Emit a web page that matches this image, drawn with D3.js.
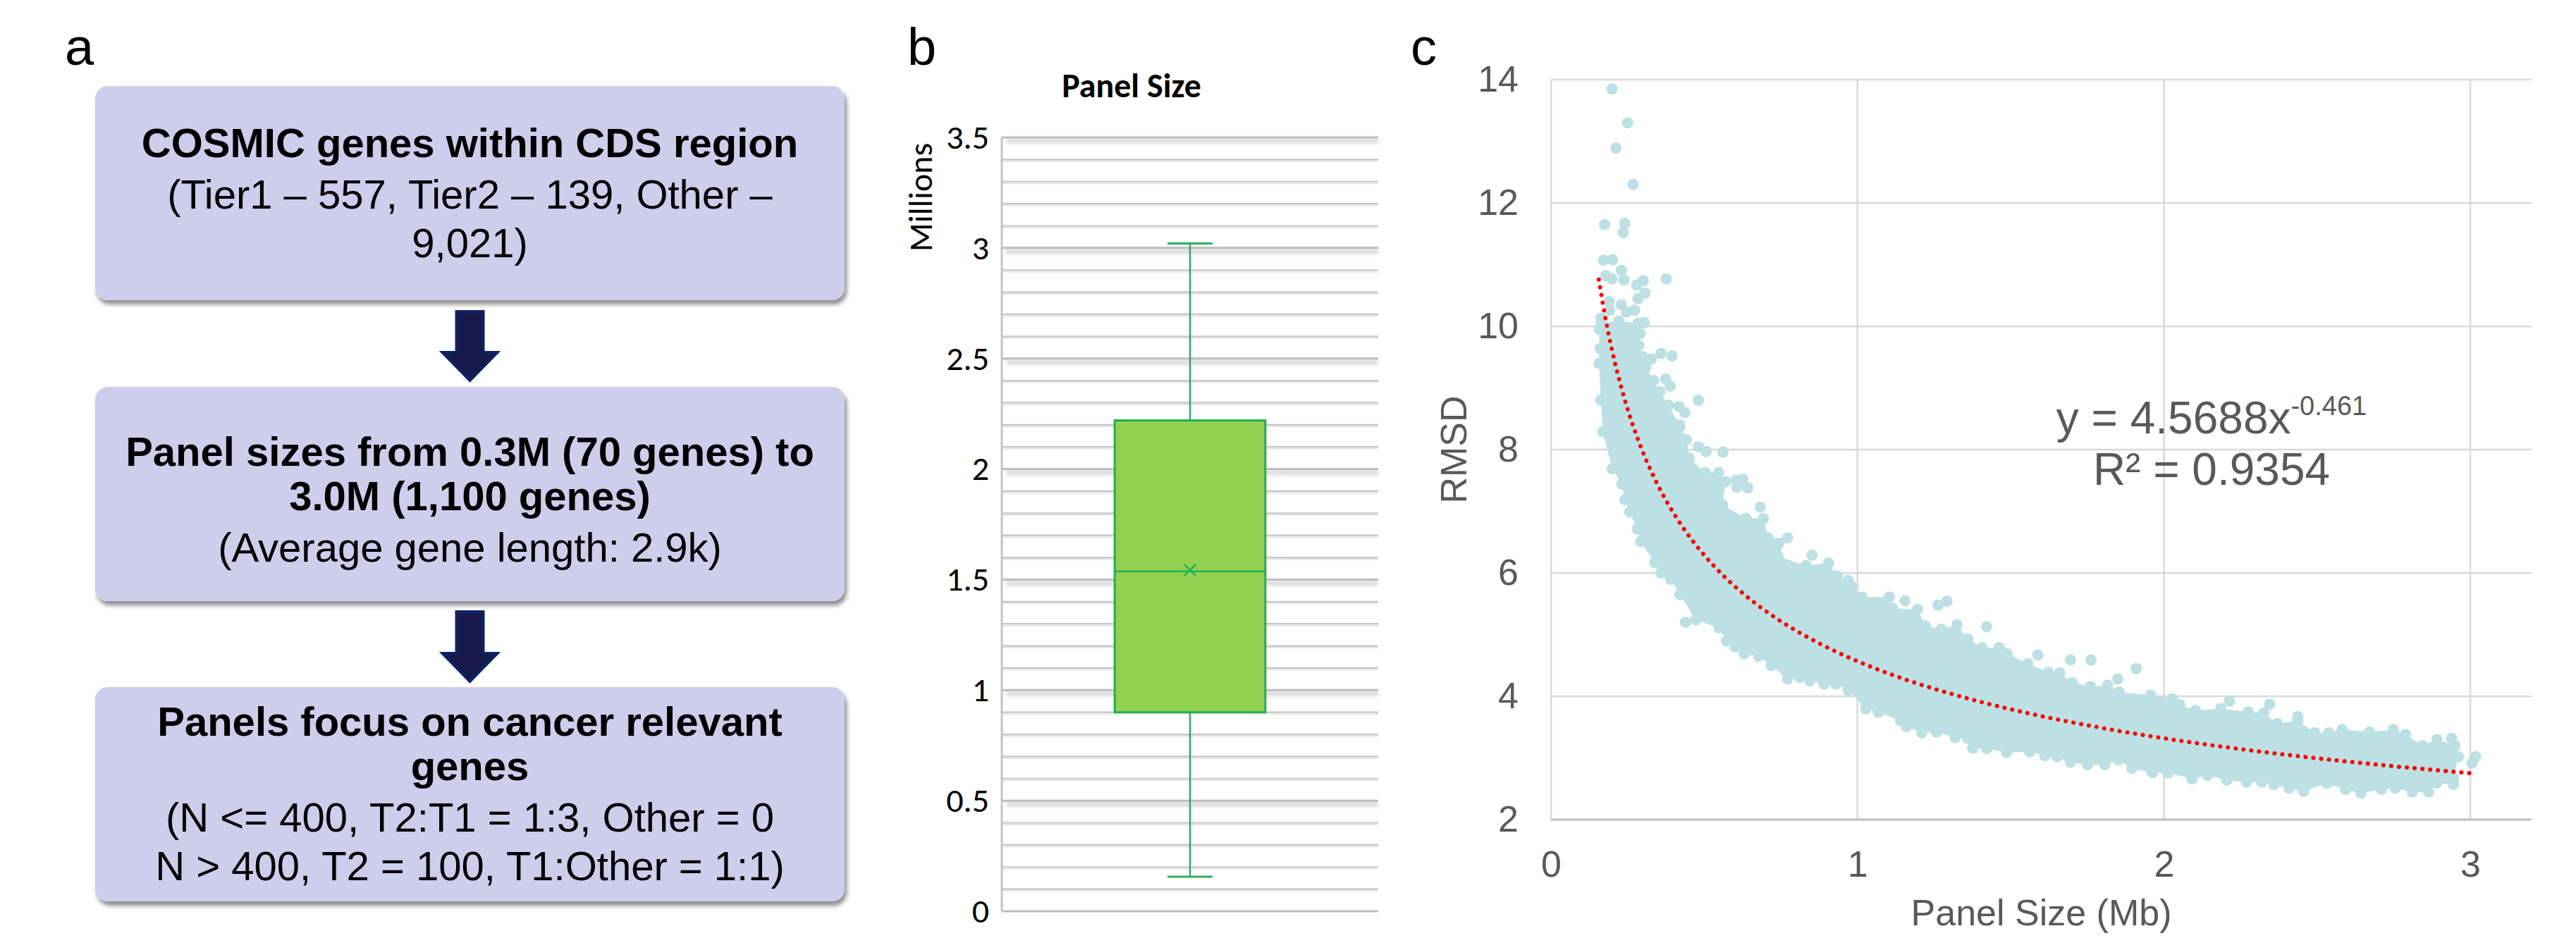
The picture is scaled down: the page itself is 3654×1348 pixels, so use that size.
<!DOCTYPE html>
<html>
<head>
	<meta charset="utf-8">
	<title>Panel size and RMSD</title>
	<style>
		body {
			margin: 0;
			background: #fff;
		}
		svg {
			display: block;
		}
		.flow-bold {
			font: bold 58px "Liberation Sans", Arial, sans-serif;
			fill: #000;
		}
		.flow-plain {
			font: 58px "Liberation Sans", Arial, sans-serif;
			fill: #000;
		}
		.panel-tag {
			font: 74px "Liberation Sans", Arial, sans-serif;
			fill: #000;
		}
		.xl text {
			font: 48px Carlito, Lato, sans-serif;
			fill: #000;
		}
		.xl text.title {
			font-weight: bold;
		}
		.sc text {
			font: 52px "Liberation Sans", Arial, sans-serif;
			fill: #595959;
		}
	</style>
</head>
<body>
	<svg id="fig" width="3654" height="1348"></svg>
	<script src="https://cdn.jsdelivr.net/npm/d3@7"></script>
	<script>
		// ---------- data ----------

		// panel a: the three steps of the flow chart
		var flowBold = [
			['COSMIC genes within CDS region'],
			['Panel sizes from 0.3M (70 genes) to', '3.0M (1,100 genes)'],
			['Panels focus on cancer relevant', 'genes']
		];
		var flowPlain = [
			['(Tier1 \u2013 557, Tier2 \u2013 139, Other \u2013', '9,021)'],
			['(Average gene length: 2.9k)'],
			['(N <= 400, T2:T1 = 1:3, Other = 0', 'N > 400, T2 = 100, T1:Other = 1:1)']
		];

		// panel b: box plot of panel size (millions of bases)
		var boxCategory = ['Panel Size'];
		var boxStats = [0.156, 0.90, 1.537, 2.22, 3.02];   // min, q1, median, q3, max
		var boxMean = 1.543;
		var boxTicks = [0, 0.5, 1, 1.5, 2, 2.5, 3, 3.5];

		// panel c: RMSD vs panel size (Mb)
		var scatterXTicks = [0, 1, 2, 3];
		var scatterYTicks = [2, 4, 6, 8, 10, 12, 14];
		// edge of the dense cloud, upper / right side
		var bandUpper = [
			[0.165, 10.05], [0.222, 10.09], [0.284, 10.05], [0.291, 9.88], [0.287, 9.69], [0.299, 9.51],
			[0.310, 9.34], [0.335, 9.12], [0.355, 8.94], [0.383, 8.72], [0.420, 8.40], [0.442, 8.16],
			[0.452, 7.86], [0.503, 7.63], [0.547, 7.63], [0.570, 7.48], [0.560, 7.10], [0.637, 6.89],
			[0.693, 6.88], [0.708, 6.57], [0.772, 6.57], [0.741, 6.27], [0.832, 6.12], [0.906, 6.16],
			[0.934, 5.95], [0.981, 5.78], [1.015, 5.61], [1.104, 5.61], [1.114, 5.43], [1.196, 5.41],
			[1.222, 5.14], [1.273, 5.09], [1.325, 5.16], [1.360, 4.93], [1.407, 4.79], [1.463, 4.79],
			[1.489, 4.69], [1.556, 4.53], [1.623, 4.39], [1.660, 4.38], [1.701, 4.22], [1.760, 4.16],
			[1.816, 4.18], [1.854, 4.07], [1.957, 4.02], [2.028, 3.96], [2.052, 3.86], [2.103, 3.77],
			[2.186, 3.80], [2.275, 3.75], [2.326, 3.73], [2.370, 3.56], [2.437, 3.60], [2.493, 3.41],
			[2.538, 3.41], [2.582, 3.46], [2.671, 3.42], [2.749, 3.46], [2.789, 3.38], [2.844, 3.20],
			[2.891, 3.30], [2.950, 3.20], [2.961, 3.02]
		];
		// edge of the dense cloud, lower / left side
		var bandLower = [
			[0.158, 9.95], [0.157, 9.40], [0.163, 8.80], [0.169, 8.29], [0.200, 7.69], [0.231, 7.44],
			[0.241, 7.19], [0.257, 6.99], [0.282, 6.71], [0.293, 6.51], [0.339, 6.17], [0.359, 6.00],
			[0.390, 5.90], [0.421, 5.65], [0.472, 5.24], [0.549, 5.11], [0.573, 4.90], [0.601, 4.80],
			[0.631, 4.69], [0.678, 4.65], [0.719, 4.50], [0.772, 4.28], [0.811, 4.31], [0.844, 4.25],
			[0.891, 4.20], [0.929, 4.20], [0.970, 4.10], [1.027, 3.80], [1.068, 3.74], [1.140, 3.61],
			[1.160, 3.51], [1.210, 3.41], [1.258, 3.42], [1.319, 3.33], [1.360, 3.32], [1.376, 3.16],
			[1.422, 3.15], [1.487, 3.09], [1.562, 3.10], [1.612, 3.04], [1.651, 3.02], [1.695, 2.93],
			[1.751, 2.89], [1.807, 2.89], [1.851, 2.97], [1.896, 2.83], [1.963, 2.76], [2.014, 2.76],
			[2.092, 2.66], [2.143, 2.72], [2.205, 2.64], [2.270, 2.61], [2.320, 2.61], [2.359, 2.57],
			[2.409, 2.51], [2.456, 2.46], [2.532, 2.59], [2.593, 2.49], [2.643, 2.43], [2.710, 2.49],
			[2.755, 2.51], [2.811, 2.45], [2.864, 2.45], [2.889, 2.59], [2.945, 2.57], [2.945, 2.68]
		];
		// loose points outside the dense cloud
		var scatterOutliers = [
			[0.199, 13.85], [0.250, 13.30], [0.212, 12.89], [0.268, 12.30], [0.175, 11.65], [0.241, 11.67],
			[0.236, 11.52], [0.172, 11.07], [0.201, 11.08], [0.230, 10.91], [0.179, 10.82], [0.199, 10.77],
			[0.238, 10.75], [0.280, 10.67], [0.301, 10.74], [0.376, 10.77], [0.307, 10.54], [0.284, 10.45],
			[0.190, 10.40], [0.230, 10.35], [0.192, 10.26], [0.247, 10.23], [0.273, 10.26], [0.163, 10.13],
			[0.304, 10.06], [0.161, 9.64], [0.328, 9.47], [0.359, 9.56], [0.395, 9.52], [0.374, 9.15],
			[0.389, 9.03], [0.481, 8.80], [0.418, 8.70], [0.437, 8.60], [0.420, 8.37], [0.481, 8.05],
			[0.506, 7.97], [0.561, 7.96], [0.604, 7.50], [0.626, 7.52], [0.642, 7.38], [0.606, 7.39],
			[0.683, 7.07], [0.852, 6.29], [0.970, 5.88], [1.155, 5.55], [1.263, 5.48], [1.292, 5.54],
			[1.160, 5.21], [1.422, 5.13], [1.589, 4.67], [0.439, 5.20], [1.695, 4.59], [1.762, 4.59],
			[1.910, 4.45], [1.850, 4.28], [2.214, 3.92], [2.345, 3.87], [2.437, 3.67], [2.939, 3.32],
			[3.017, 3.02], [3.006, 2.92]
		];
		// power trendline shown on the chart: y = 4.5688 x^-0.461
		var trendCoef = [4.5688, -0.461];
		var trendSpan = [0.156, 3.02];
		var trendLabel = ['y = 4.5688x', '-0.461', 'R\u00b2 = 0.9354'];

		// ---------- drawing ----------
		var svg = d3.select('#fig');
		var defs = svg.append('defs');

		defs.append('filter')
			.attr('id', 'boxShadow')
			.attr('x', '-5%').attr('y', '-5%')
			.attr('width', '115%').attr('height', '125%')
			.append('feDropShadow')
			.attr('dx', 3).attr('dy', 6)
			.attr('stdDeviation', 3)
			.attr('flood-color', '#000')
			.attr('flood-opacity', 0.45);

		defs.append('filter')
			.attr('id', 'gridBlur')
			.attr('x', '-5%').attr('y', '-200%')
			.attr('width', '110%').attr('height', '500%')
			.append('feGaussianBlur')
			.attr('stdDeviation', 2.5);

		// panel tags
		svg.append('text').attr('class', 'panel-tag').attr('x', 92).attr('y', 92).text('a');
		svg.append('text').attr('class', 'panel-tag').attr('x', 1287).attr('y', 92).text('b');
		svg.append('text').attr('class', 'panel-tag').attr('x', 2001).attr('y', 92).text('c');

		// ---- a: flow chart
		var boxX = 135, boxW = 1063, boxH = 304;
		var boxTops = [122, 549, 975];
		var firstBaseline = [101, 112, 69];

		flowBold.forEach(function (boldLines, i) {
			var g = svg.append('g').attr('transform', 'translate(' + boxX + ',' + boxTops[i] + ')');
			g.append('rect')
				.attr('width', boxW)
				.attr('height', boxH)
				.attr('rx', 18)
				.attr('fill', '#CDCEEC')
				.attr('filter', 'url(#boxShadow)');

			var lines = boldLines.map(function (t) { return { t: t, bold: true }; })
				.concat(flowPlain[i].map(function (t) { return { t: t, bold: false }; }));
			var y = firstBaseline[i];
			lines.forEach(function (l, j) {
				if (j > 0) {
					y += l.bold ? 63 : (lines[j - 1].bold ? 73 : 69);
				}
				g.append('text')
					.attr('class', l.bold ? 'flow-bold' : 'flow-plain')
					.attr('x', boxW / 2)
					.attr('y', y)
					.attr('text-anchor', 'middle')
					.text(l.t);
			});
		});

		// arrows between the boxes
		var arrowSpans = [[442, 540], [868, 967]];
		arrowSpans.forEach(function (s) {
			var cx = 666.5, head = s[1] - 40;
			var pts = [[cx - 19, s[0]], [cx + 19, s[0]], [cx + 19, head], [cx + 39, head],
				[cx, s[1]], [cx - 39, head], [cx - 19, head]];
			svg.append('polygon')
				.attr('points', pts.map(function (p) { return p.join(','); }).join(' '))
				.attr('fill', '#17194A')
				.attr('stroke', '#0D2266')
				.attr('stroke-width', 4);
		});

		// ---- b: box plot
		var bLeft = 1421, bRight = 1955;
		var yB = d3.scaleLinear().domain([0, 3.5]).range([1293, 195]);
		var xB = d3.scaleBand().domain(boxCategory).range([bLeft, bRight])
			.paddingInner(0.6).paddingOuter(0.3);
		var gB = svg.append('g').attr('class', 'xl');

		var minorVals = d3.range(1, 35).map(function (i) { return i / 10; })
			.filter(function (v, i) { return (i + 1) % 5 !== 0; });
		var majorVals = boxTicks.filter(function (v) { return v > 0; });

		gB.selectAll('line.minor-lo').data(minorVals).join('line')
			.attr('x1', bLeft).attr('x2', bRight)
			.attr('y1', function (d) { return yB(d) + 2.5; })
			.attr('y2', function (d) { return yB(d) + 2.5; })
			.attr('stroke', '#E6E6E6').attr('stroke-width', 2);
		gB.selectAll('line.minor').data(minorVals).join('line')
			.attr('x1', bLeft).attr('x2', bRight)
			.attr('y1', function (d) { return yB(d); })
			.attr('y2', function (d) { return yB(d); })
			.attr('stroke', '#C4C4C4').attr('stroke-width', 2.2);

		gB.selectAll('rect.major-shadow').data(majorVals).join('rect')
			.attr('x', bLeft + 6).attr('width', bRight - bLeft - 6)
			.attr('y', function (d) { return yB(d) + 1; })
			.attr('height', 8)
			.attr('fill', '#000').attr('opacity', 0.13)
			.attr('filter', 'url(#gridBlur)');
		gB.selectAll('line.major').data(majorVals).join('line')
			.attr('x1', bLeft).attr('x2', bRight)
			.attr('y1', function (d) { return yB(d); })
			.attr('y2', function (d) { return yB(d); })
			.attr('stroke', '#BDBDBD').attr('stroke-width', 3);

		// axis lines
		gB.append('line')
			.attr('x1', bLeft).attr('x2', bRight)
			.attr('y1', yB(0)).attr('y2', yB(0))
			.attr('stroke', '#BFBFBF').attr('stroke-width', 3);
		gB.append('line')
			.attr('x1', bLeft).attr('x2', bLeft)
			.attr('y1', yB(3.5)).attr('y2', yB(0))
			.attr('stroke', '#C4C4C4').attr('stroke-width', 3);

		var axB = gB.append('g')
			.attr('transform', 'translate(' + bLeft + ',0)')
			.call(d3.axisLeft(yB).tickValues(boxTicks).tickSize(0).tickPadding(18)
				.tickFormat(d3.format('~g')));
		axB.select('.domain').remove();
		axB.selectAll('text').attr('font-size', null).attr('font-family', null);

		gB.append('text')
			.attr('transform', 'translate(1322,280) rotate(-90)')
			.attr('text-anchor', 'middle')
			.text('Millions');
		gB.append('text')
			.attr('class', 'title')
			.attr('x', 1605).attr('y', 138)
			.attr('text-anchor', 'middle')
			.text('Panel Size');

		var boxGreen = '#22AF55';
		var bx = xB(boxCategory[0]), bw = xB.bandwidth(), bcx = bx + bw / 2;
		var whiskers = [[boxStats[3], boxStats[4]], [boxStats[1], boxStats[0]]];
		gB.selectAll('line.whisker').data(whiskers).join('line')
			.attr('x1', bcx).attr('x2', bcx)
			.attr('y1', function (d) { return yB(d[0]); })
			.attr('y2', function (d) { return yB(d[1]); })
			.attr('stroke', '#34A867').attr('stroke-width', 2.5);
		gB.selectAll('line.cap').data([boxStats[0], boxStats[4]]).join('line')
			.attr('x1', bcx - 32).attr('x2', bcx + 32)
			.attr('y1', function (d) { return yB(d); })
			.attr('y2', function (d) { return yB(d); })
			.attr('stroke', '#2FB062').attr('stroke-width', 3);
		gB.append('rect')
			.attr('x', bx).attr('width', bw)
			.attr('y', yB(boxStats[3]))
			.attr('height', yB(boxStats[1]) - yB(boxStats[3]))
			.attr('fill', '#92D050')
			.attr('stroke', boxGreen).attr('stroke-width', 3);
		gB.append('line')
			.attr('x1', bx).attr('x2', bx + bw)
			.attr('y1', yB(boxStats[2])).attr('y2', yB(boxStats[2]))
			.attr('stroke', boxGreen).attr('stroke-width', 2.5);
		gB.append('path')
			.attr('transform', 'translate(' + bcx + ',' + yB(boxMean) + ')')
			.attr('d', 'M-8,-8L8,8M-8,8L8,-8')
			.attr('stroke', boxGreen).attr('stroke-width', 2.5);

		// ---- c: scatter with power trendline
		var xC = d3.scaleLinear().domain([0, 3.2]).range([2200, 3591]);
		var yC = d3.scaleLinear().domain([2, 14]).range([1163, 113]);
		var gC = svg.append('g').attr('class', 'sc');

		gC.selectAll('line.hgrid').data(scatterYTicks.filter(function (v) { return v > 2; })).join('line')
			.attr('x1', xC(0)).attr('x2', xC(3.2))
			.attr('y1', function (d) { return yC(d); })
			.attr('y2', function (d) { return yC(d); })
			.attr('stroke', '#D9D9D9').attr('stroke-width', 2.5);
		gC.selectAll('line.vgrid').data(scatterXTicks).join('line')
			.attr('x1', function (d) { return xC(d); })
			.attr('x2', function (d) { return xC(d); })
			.attr('y1', yC(14)).attr('y2', yC(2))
			.attr('stroke', '#D9D9D9').attr('stroke-width', 2.5);
		gC.append('line')
			.attr('x1', xC(0)).attr('x2', xC(3.2))
			.attr('y1', yC(2)).attr('y2', yC(2))
			.attr('stroke', '#BFBFBF').attr('stroke-width', 3);

		var axCx = gC.append('g')
			.attr('transform', 'translate(0,' + yC(2) + ')')
			.call(d3.axisBottom(xC).tickValues(scatterXTicks).tickSize(0).tickPadding(44)
				.tickFormat(d3.format('d')));
		var axCy = gC.append('g')
			.attr('transform', 'translate(' + xC(0) + ',0)')
			.call(d3.axisLeft(yC).tickValues(scatterYTicks).tickSize(0).tickPadding(46)
				.tickFormat(d3.format('d')));
		[axCx, axCy].forEach(function (ax) {
			ax.select('.domain').remove();
			ax.selectAll('text').attr('font-size', null).attr('font-family', null);
		});

		gC.append('text')
			.attr('x', (xC(0) + xC(3.2)) / 2).attr('y', 1313)
			.attr('text-anchor', 'middle')
			.text('Panel Size (Mb)');
		gC.append('text')
			.attr('transform', 'translate(2080,' + (yC(2) + yC(14)) / 2 + ') rotate(-90)')
			.attr('text-anchor', 'middle')
			.text('RMSD');

		var dotColor = '#BCE0E3';
		var lineC = d3.line()
			.x(function (d) { return xC(d[0]); })
			.y(function (d) { return yC(d[1]); });

		gC.append('path')
			.datum(bandUpper.concat(bandLower.slice().reverse()))
			.attr('d', lineC.curve(d3.curveLinearClosed))
			.attr('fill', dotColor);
		gC.selectAll('circle.pt').data(bandUpper.concat(bandLower, scatterOutliers)).join('circle')
			.attr('cx', function (d) { return xC(d[0]); })
			.attr('cy', function (d) { return yC(d[1]); })
			.attr('r', 8)
			.attr('fill', dotColor);

		var trendPts = d3.range(0, 201).map(function (i) {
			var x = trendSpan[0] + (trendSpan[1] - trendSpan[0]) * i / 200;
			return [x, trendCoef[0] * Math.pow(x, trendCoef[1])];
		});
		gC.append('path')
			.datum(trendPts)
			.attr('d', d3.line()
				.x(function (d) { return xC(d[0]); })
				.y(function (d) { return yC(d[1]); }))
			.attr('fill', 'none')
			.attr('stroke', '#FF0000')
			.attr('stroke-width', 6)
			.attr('stroke-linecap', 'round')
			.attr('stroke-dasharray', '0.1 11');

		var eq = gC.append('text')
			.attr('x', 3137).attr('y', 615)
			.attr('text-anchor', 'middle')
			.style('font-size', '64px');
		eq.append('tspan').text(trendLabel[0]);
		eq.append('tspan').style('font-size', '38px').attr('dy', -26).text(trendLabel[1]);
		gC.append('text')
			.attr('x', 3137).attr('y', 688)
			.attr('text-anchor', 'middle')
			.style('font-size', '64px')
			.text(trendLabel[2]);
	</script>
</body>
</html>
